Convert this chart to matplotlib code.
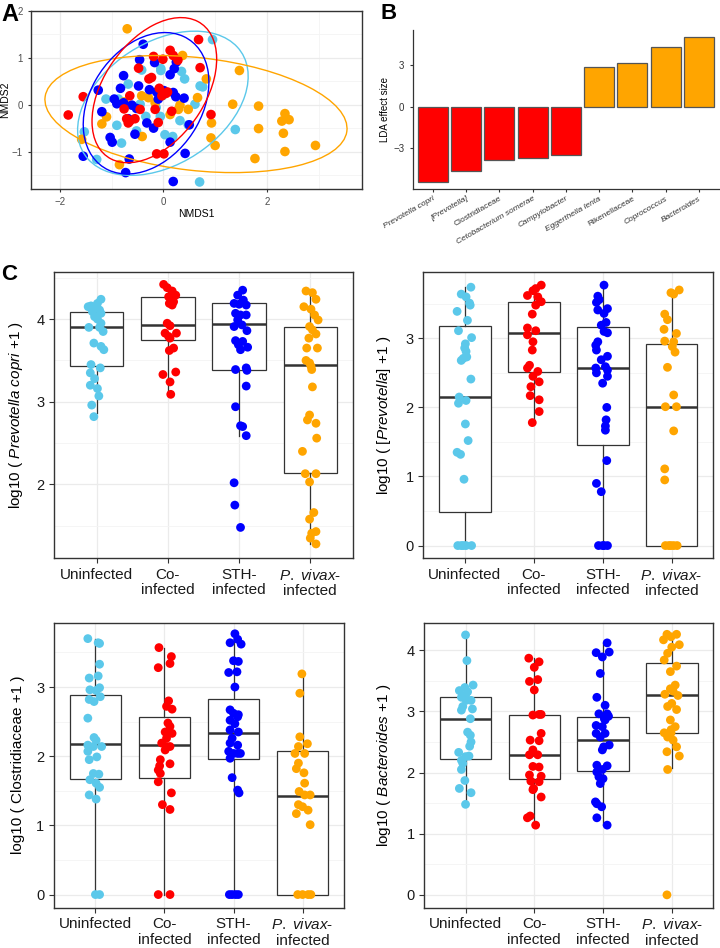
import numpy as np
import matplotlib
matplotlib.use("Agg")
import matplotlib.pyplot as plt
import matplotlib.transforms as mtransforms
from matplotlib.patches import Ellipse
from matplotlib.ticker import FixedLocator

plt.rcParams['font.family'] = ['Liberation Sans', 'DejaVu Sans']
plt.rcParams['mathtext.fontset'] = 'custom'
plt.rcParams['mathtext.rm'] = 'Liberation Sans'
plt.rcParams['mathtext.it'] = 'Liberation Sans:italic'
plt.rcParams['mathtext.bf'] = 'Liberation Sans:bold'

# ---------------- colours ----------------
C_UNINF = "#5BC8EA"
C_CO = "#FF0000"
C_STH = "#0000FF"
C_VIV = "#FFA500"

# ---------------- Panel A : NMDS ----------------
viv_nmds1 = [-0.70, 0.37, 1.47, 0.83, 0.66, -0.42, -0.29, -0.16, 0.32, 0.48, 0.13, -0.76, -1.10, -1.19, -1.58,
             -0.85, -0.41, 0.93, 0.92, 1.00, 1.34, 1.84, 1.84, 2.35, 2.43, 2.29, 2.32, 2.35, 1.77, 2.94, 0.29]
viv_nmds2 = [1.62, 1.05, 0.73, 0.55, 0.15, 0.19, 0.15, 0.04, -0.01, -0.10, -0.21, 0.06, -0.26, -0.41, -0.74,
             -1.28, -0.68, -0.39, -0.71, -0.87, 0.01, -0.03, -0.51, -0.19, -0.32, -0.35, -0.61, -1.00, -1.15, -0.87, -0.10]
co_nmds1 = [0.68, 0.13, 0.19, -0.19, -0.01, 0.28, -0.48, 0.71, -0.28, -0.23, -0.08, 0.08, -0.03, 0.05, -0.65,
            -1.55, -0.76, -0.45, -0.16, 0.16, -0.71, -0.65, -0.68, -0.10, 0.92, -1.84, -0.13, 0.01, -0.55]
co_nmds2 = [1.39, 1.16, 1.05, 1.03, 0.97, 0.95, 0.78, 0.79, 0.55, 0.58, 0.35, 0.27, 0.19, 0.24, 0.19,
            0.17, -0.09, -0.10, -0.10, -0.14, -0.30, -0.35, -0.39, -0.38, -0.21, -0.22, -1.05, -1.05, -0.30]
sth_nmds1 = [-0.39, -0.46, -0.17, 0.25, 0.21, 0.13, -0.77, -0.83, -0.48, -0.27, -0.13, 0.01, 0.19, 0.24, 0.40,
             -1.26, -0.95, -0.90, -1.19, -0.77, -0.61, -0.52, -0.32, -0.19, 0.50, -0.68, -1.03, -0.99, -0.55,
             0.13, 0.42, -1.55, -0.66, -0.73, 0.19, -0.10]
sth_nmds2 = [1.29, 0.96, 0.90, 0.91, 0.77, 0.64, 0.62, 0.35, 0.40, 0.32, 0.27, 0.30, 0.26, 0.17, 0.14,
             0.31, 0.12, 0.02, -0.15, 0.04, -0.01, -0.08, -0.39, -0.50, -0.43, -0.30, -0.70, -0.80, -0.63,
             -0.80, -1.04, -1.10, -1.16, -1.45, -1.64, 0.12]
un_nmds1 = [0.95, -0.05, -0.05, 0.35, 0.41, -0.42, -0.68, -1.11, -0.87, -0.45, -0.14, -0.06, -0.34, 0.32,
            0.48, 0.61, 0.71, 0.76, -0.90, -1.53, -0.81, -1.29, -0.52, 0.03, 0.18, 1.39, 0.70, -0.02]
un_nmds2 = [1.39, 0.77, 0.73, 0.71, 0.55, 0.74, 0.44, 0.12, 0.12, 0.01, -0.06, -0.25, -0.25, -0.34,
            -0.43, 0.01, 0.40, 0.38, -0.44, -0.58, -0.82, -1.17, -0.56, -0.64, -0.68, -0.53, -1.65, 0.19]

# 95% ellipses: centre and shape matrix (sxx, syy, sxy)
ell_groups = ["Uninfected", "P. vivax", "STH", "Co"]
ell_cx = [-0.01, 0.63, -0.335, -0.175]
ell_cy = [0.03, -0.20, 0.03, 0.31]
ell_sxx = [2.72, 8.53, 1.476, 1.452]
ell_syy = [2.37, 1.5625, 2.28, 2.40]
ell_sxy = [0.95, -0.90, 0.55, 0.80]

# ---------------- Panel B : LDA ----------------
lda_taxa = ["Prevotella copri", "[Prevotella]", "Clostridiaceae", "Cetobacterium somerae", "Campylobacter",
            "Eggerthella lenta", "Rikenellaceae", "Coprococcus", "Bacteroides"]
lda_score = [-5.43, -4.66, -3.88, -3.74, -3.52, 2.90, 3.14, 4.35, 5.07]
lda_italic = [True, True, False, True, True, True, False, True, True]

# ---------------- Panel C : boxplots (value, jitter) ----------------
groups = ["Uninfected", "Co-\ninfected", "STH-\ninfected", r"$\mathit{P.\ vivax}$-" + "\ninfected"]

pc_uninf = [(4.24,0.06),(4.19,0.01),(4.16,-0.08),(4.15,-0.12),(4.13,-0.01),(4.11,0.04),(4.09,-0.06),(4.07,0.06),(4.03,-0.03),(4.00,0.01),(3.95,0.06),(3.90,-0.11),(3.90,0.04),(3.85,0.09),(3.71,-0.04),(3.67,0.06),(3.63,0.10),(3.45,-0.08),(3.41,0.05),(3.35,-0.09),(3.28,-0.03),(3.20,-0.09),(3.16,0.01),(3.07,0.03),(2.96,-0.07),(2.82,-0.04)]
pc_co = [(4.42,-0.06),(4.38,-0.01),(4.34,0.06),(4.29,0.11),(4.27,0.01),(4.21,0.08),(4.19,0.02),(4.17,0.06),(3.95,-0.01),(3.92,0.03),(3.83,-0.04),(3.83,0.12),(3.79,0.01),(3.77,0.03),(3.65,0.08),(3.62,0.02),(3.33,-0.07),(3.36,0.11),(3.24,0.03),(3.09,0.04)]
pc_sth = [(4.35,0.05),(4.29,-0.02),(4.23,0.06),(4.19,-0.07),(4.18,0.00),(4.17,0.10),(4.07,-0.05),(4.05,0.02),(4.05,0.10),(3.99,-0.02),(3.91,-0.07),(3.93,0.04),(3.86,0.11),(3.74,-0.05),(3.73,0.05),(3.69,-0.01),(3.63,0.02),(3.66,0.12),(3.39,-0.05),(3.41,0.10),(3.38,0.11),(3.19,0.10),(2.94,-0.05),(2.71,0.02),(2.70,0.05),(2.59,0.10),(2.02,-0.07),(1.75,-0.06),(1.48,0.02)]
pc_viv = [(4.34,-0.06),(4.32,0.03),(4.24,0.08),(4.15,-0.09),(4.12,0.01),(4.05,0.06),(3.99,0.11),(3.91,-0.01),(3.87,0.03),(3.82,0.08),(3.77,-0.02),(3.65,-0.05),(3.65,0.10),(3.50,-0.06),(3.47,-0.01),(3.43,0.01),(3.39,0.02),(3.18,0.03),(2.84,-0.01),(2.78,-0.04),(2.74,0.08),(2.56,0.09),(2.40,-0.11),(2.13,-0.07),(2.13,0.08),(2.03,-0.01),(1.66,0.05),(1.58,-0.01),(1.41,0.02),(1.43,0.08),(1.35,0.00),(1.28,0.08)]
pc_q1 = [3.43, 3.75, 3.39, 2.14]
pc_med = [3.90, 3.93, 3.94, 3.44]
pc_q3 = [4.09, 4.27, 4.19, 3.90]
pc_lo = [2.86, 3.08, 2.59, 1.28]
pc_hi = [4.24, 4.42, 4.35, 4.34]

pv_uninf = [(3.74,0.09),(3.64,-0.05),(3.60,0.02),(3.51,0.07),(3.48,0.08),(3.39,-0.11),(3.26,0.04),(3.11,-0.09),(3.01,0.10),(2.92,0.01),(2.86,0.00),(2.81,0.02),(2.71,-0.02),(2.73,0.03),(2.68,-0.05),(2.41,0.09),(2.15,-0.08),(2.06,-0.09),(2.10,0.02),(1.76,0.01),(1.52,0.05),(1.35,-0.11),(1.32,-0.06),(0.96,-0.01),(0,-0.10),(0,-0.05),(0,0.02),(0,0.10),(0,-0.02)]
pv_co = [(3.77,0.11),(3.72,0.03),(3.69,-0.01),(3.62,-0.09),(3.60,0.06),(3.53,0.11),(3.48,0.03),(3.35,-0.02),(3.15,-0.09),(3.11,0.03),(3.05,-0.09),(2.95,-0.01),(2.83,-0.02),(2.61,-0.06),(2.57,-0.09),(2.52,0.06),(2.45,-0.01),(2.37,0.08),(2.30,-0.04),(2.17,-0.05),(2.11,0.08),(1.94,0.08),(1.78,-0.02)]
pv_sth = [(3.77,0.02),(3.61,-0.07),(3.56,-0.05),(3.52,-0.09),(3.43,0.07),(3.41,-0.07),(3.36,0.02),(3.19,-0.02),(3.23,0.05),(3.08,0.07),(3.10,0.02),(2.95,-0.07),(2.90,-0.10),(2.83,-0.09),(2.69,-0.02),(2.74,0.07),(2.59,0.04),(2.57,-0.10),(2.54,0.07),(2.45,0.07),(2.50,-0.09),(2.35,0.00),(2.00,0.06),(1.82,0.05),(1.73,0.04),(1.67,0.04),(1.23,0.06),(0.90,-0.09),(0.78,-0.02),(0,-0.06),(0,0.00),(0,0.07),(0,0.02)]
pv_viv = [(3.70,0.11),(3.66,-0.01),(3.64,0.03),(3.35,-0.10),(3.27,-0.06),(3.13,-0.11),(3.07,0.07),(2.96,-0.10),(2.95,0.03),(2.88,0.01),(2.80,0.05),(2.58,-0.06),(2.18,0.03),(2.01,-0.09),(2.01,0.07),(1.66,0.03),(1.11,-0.10),(0.95,-0.10),(0,-0.09),(0,-0.04),(0,0.03),(0,0.08),(0,-0.01)]
pv_q1 = [0.48, 2.51, 1.46, 0.0]
pv_med = [2.15, 3.07, 2.57, 2.0]
pv_q3 = [3.18, 3.52, 3.16, 2.92]
pv_lo = [0.0, 1.77, 0.0, 0.0]
pv_hi = [3.74, 3.77, 3.77, 3.70]

cl_uninf = [(3.70,-0.11),(3.64,0.04),(3.63,0.06),(3.33,0.06),(3.13,-0.09),(3.16,0.04),(2.96,-0.08),(2.99,0.06),(2.95,0.01),(2.82,-0.09),(2.79,-0.02),(2.86,0.07),(2.55,-0.11),(2.27,-0.02),(2.23,0.01),(2.16,-0.11),(2.14,0.09),(2.14,-0.03),(2.07,-0.11),(1.99,0.02),(1.95,-0.09),(1.75,-0.03),(1.74,0.05),(1.66,-0.08),(1.61,0.01),(1.55,0.06),(1.44,-0.09),(1.38,0.01),(0,0.00),(0,0.06)]
cl_co = [(3.57,-0.08),(3.44,0.10),(3.34,0.08),(3.28,-0.09),(2.80,0.06),(2.72,0.03),(2.68,0.11),(2.48,0.05),(2.43,0.08),(2.35,0.01),(2.33,0.11),(2.26,0.03),(2.19,-0.04),(2.14,0.03),(2.14,0.08),(2.09,0.01),(1.95,-0.06),(1.86,-0.07),(1.89,0.08),(1.80,-0.09),(1.75,-0.06),(1.63,-0.09),(1.47,0.10),(1.30,-0.03),(1.23,0.08),(0,-0.09),(0,0.08)]
cl_sth = [(3.77,0.02),(3.64,-0.05),(3.69,0.06),(3.62,0.11),(3.38,0.00),(3.37,0.07),(3.21,-0.07),(3.22,0.05),(3.00,0.02),(2.67,-0.05),(2.62,0.00),(2.60,0.07),(2.52,-0.05),(2.57,0.06),(2.47,0.02),(2.38,-0.05),(2.35,0.07),(2.26,-0.02),(2.19,-0.05),(2.16,0.06),(2.07,-0.07),(2.04,0.00),(2.04,0.06),(2.04,0.10),(1.97,-0.05),(1.69,-0.02),(1.51,0.06),(1.47,0.08),(0,-0.06),(0,-0.02),(0,0.03),(0,0.07)]
cl_viv = [(3.19,-0.01),(2.91,-0.04),(2.28,-0.04),(2.18,0.07),(2.14,-0.06),(2.04,-0.11),(2.04,0.03),(1.90,-0.06),(1.82,-0.09),(1.76,0.02),(1.61,0.03),(1.49,-0.05),(1.44,0.03),(1.44,0.11),(1.30,-0.06),(1.27,0.00),(1.22,0.08),(1.17,-0.09),(1.01,0.11),(0,-0.07),(0,0.00),(0,0.08),(0,0.12)]
cl_q1 = [1.67, 1.69, 1.96, 0.0]
cl_med = [2.17, 2.16, 2.34, 1.43]
cl_q3 = [2.88, 2.57, 2.82, 2.07]
cl_lo = [0.0, 0.0, 0.0, 0.0]
cl_hi = [3.70, 3.57, 3.77, 3.19]

ba_uninf = [(4.25,0.00),(3.83,0.02),(3.39,-0.01),(3.43,0.11),(3.34,-0.09),(3.32,0.03),(3.26,0.00),(3.23,-0.06),(3.18,0.08),(3.18,0.01),(3.08,-0.04),(3.04,0.10),(3.02,-0.06),(2.88,0.07),(2.66,0.03),(2.61,0.07),(2.50,0.08),(2.43,0.06),(2.33,-0.10),(2.27,0.05),(2.26,0.00),(2.20,-0.06),(2.15,-0.04),(2.05,-0.06),(1.87,-0.01),(1.74,-0.09),(1.67,0.08),(1.48,0.00)]
ba_co = [(3.87,-0.08),(3.81,0.07),(3.72,0.00),(3.49,-0.07),(3.52,0.05),(3.35,0.00),(2.95,0.07),(2.94,-0.02),(2.95,0.10),(2.64,0.10),(2.53,-0.06),(2.52,0.07),(2.37,-0.02),(2.29,-0.07),(2.29,0.05),(2.10,-0.02),(2.09,0.07),(1.96,-0.07),(1.94,0.10),(1.86,-0.05),(1.85,0.07),(1.74,-0.01),(1.72,-0.02),(1.60,0.10),(1.26,-0.10),(1.29,-0.06),(1.14,0.02)]
ba_sth = [(4.12,0.06),(3.97,0.09),(3.96,-0.10),(3.89,-0.01),(3.62,-0.04),(3.23,-0.09),(3.10,0.03),(2.96,0.06),(2.96,-0.06),(2.88,0.02),(2.92,0.08),(2.86,0.03),(2.77,-0.10),(2.75,-0.01),(2.64,-0.10),(2.64,0.03),(2.58,-0.04),(2.45,0.09),(2.42,0.01),(2.37,-0.01),(2.12,-0.09),(2.11,0.06),(2.05,-0.01),(2.01,-0.09),(1.93,-0.06),(1.90,0.00),(1.82,-0.04),(1.52,-0.11),(1.49,-0.09),(1.44,-0.02),(1.26,-0.09),(1.14,0.06)]
ba_viv = [(4.26,-0.07),(4.26,0.07),(4.22,-0.01),(4.17,-0.12),(4.09,0.11),(4.05,0.00),(3.95,-0.06),(3.84,-0.11),(3.74,0.07),(3.65,-0.02),(3.43,0.05),(3.37,-0.02),(3.33,0.02),(3.28,-0.10),(3.26,0.09),(3.13,0.00),(3.08,-0.06),(3.03,0.07),(2.86,-0.02),(2.75,0.05),(2.70,-0.01),(2.65,-0.11),(2.65,-0.01),(2.58,-0.06),(2.53,0.02),(2.42,0.07),(2.34,-0.07),(2.27,0.11),(2.05,-0.06),(0,-0.07)]
ba_q1 = [2.22, 1.89, 2.02, 2.64]
ba_med = [2.88, 2.28, 2.53, 3.26]
ba_q3 = [3.23, 2.94, 2.90, 3.79]
ba_lo = [1.48, 1.14, 1.14, 2.07]
ba_hi = [4.25, 3.87, 4.12, 4.27]

# =====================================================================
W, H = 720, 948
fig = plt.figure(figsize=(W / 100, H / 100), dpi=100)


def fax(left, top, right, bottom):
    return fig.add_axes([left / W, 1 - bottom / H, (right - left) / W, (bottom - top) / H])


GRID_MAJ = "#EBEBEB"
GRID_MIN = "#F4F4F4"
DARK = "#333333"


def frame(ax):
    for s in ax.spines.values():
        s.set_color(DARK)
        s.set_linewidth(1.0)
    ax.set_axisbelow(True)
    ax.grid(which='major', color=GRID_MAJ, lw=0.9)
    ax.grid(which='minor', color=GRID_MIN, lw=0.6)
    ax.tick_params(which='major', length=3.5, width=0.8, color=DARK)
    ax.tick_params(which='minor', length=0)


# ---------------- Panel A ----------------
axA = fax(31, 11, 362, 189)
frame(axA)
ell_cols = [C_UNINF, C_VIV, C_STH, C_CO]
for xs, ys, col in [(un_nmds1, un_nmds2, C_UNINF), (viv_nmds1, viv_nmds2, C_VIV),
                    (sth_nmds1, sth_nmds2, C_STH), (co_nmds1, co_nmds2, C_CO)]:
    axA.scatter(xs, ys, s=48, color=col, edgecolors='none', zorder=3)
for i, col in enumerate(ell_cols):
    S = np.array([[ell_sxx[i], ell_sxy[i]], [ell_sxy[i], ell_syy[i]]])
    vals, vecs = np.linalg.eigh(S)
    ang = np.degrees(np.arctan2(vecs[1, 1], vecs[0, 1]))
    e = Ellipse((ell_cx[i], ell_cy[i]), 2 * np.sqrt(vals[1]), 2 * np.sqrt(vals[0]), angle=ang,
                fill=False, edgecolor=col, lw=1.0, zorder=4)
    axA.add_patch(e)
axA.set_xlim(-2.56, 3.84)
axA.set_ylim(-1.8, 2.0)
axA.xaxis.set_major_locator(FixedLocator([-2, 0, 2]))
axA.xaxis.set_minor_locator(FixedLocator([-1, 1, 3]))
axA.yaxis.set_major_locator(FixedLocator([-1, 0, 1, 2]))
axA.yaxis.set_minor_locator(FixedLocator([-1.5, -0.5, 0.5, 1.5]))
axA.tick_params(labelsize=7, labelcolor="#4D4D4D", length=2.5)
axA.set_xlabel("NMDS1", fontsize=7.5)
axA.set_ylabel("NMDS2", fontsize=7.5)
axA.xaxis.set_label_coords(0.5, -0.11)
axA.yaxis.set_label_coords(-0.062, 0.5)

# ---------------- Panel B ----------------
axB = fax(412.7, 30, 719, 189)
pos = np.arange(1, len(lda_taxa) + 1)
bar_cols = [C_CO if v < 0 else C_VIV for v in lda_score]
axB.bar(pos, lda_score, width=0.9, color=bar_cols, edgecolor="#555555", linewidth=0.9, zorder=3)
axB.set_xlim(0.4, 9.6)
axB.set_ylim(-5.96, 5.56)
for s in ['top', 'right']:
    axB.spines[s].set_visible(False)
for s in ['left', 'bottom']:
    axB.spines[s].set_color(DARK)
    axB.spines[s].set_linewidth(0.9)
axB.set_yticks([-3, 0, 3])
axB.set_xticks(pos)
axB.set_xticklabels(lda_taxa, rotation=30, ha='right', rotation_mode='anchor', fontsize=6)
shift = mtransforms.ScaledTranslation(8 / 100, 0, fig.dpi_scale_trans)
for lab, it in zip(axB.get_xticklabels(), lda_italic):
    lab.set_fontstyle('italic' if it else 'normal')
    lab.set_transform(lab.get_transform() + shift)
axB.tick_params(length=2.5, width=0.8, color=DARK, labelsize=7, labelcolor="#333333")
axB.tick_params(axis='x', labelsize=6, pad=2)
axB.set_ylabel("LDA effect size", fontsize=7)
axB.yaxis.set_label_coords(-0.074, 0.5)

# ---------------- Panel C ----------------
cols = [C_UNINF, C_CO, C_STH, C_VIV]


def box_panel(ax, pts, q1, med, q3, lo, hi, ylim, majors, minors, ylabel, lblx):
    frame(ax)
    stats = [dict(med=med[i], q1=q1[i], q3=q3[i], whislo=lo[i], whishi=hi[i]) for i in range(4)]
    ax.bxp(stats, positions=[1, 2, 3, 4], widths=0.75, showfliers=False, showcaps=False,
           patch_artist=True,
           boxprops=dict(facecolor='white', edgecolor=DARK, linewidth=0.9),
           medianprops=dict(color=DARK, linewidth=1.8),
           whiskerprops=dict(color=DARK, linewidth=0.9), zorder=2)
    for i, (grp, col) in enumerate(zip(pts, cols)):
        ys = [p[0] for p in grp]
        xs = [i + 1 + p[1] for p in grp]
        ax.scatter(xs, ys, s=40, color=col, edgecolors='none', zorder=3)
    ax.set_xlim(0.4, 4.6)
    ax.set_ylim(*ylim)
    ax.xaxis.set_major_locator(FixedLocator([1, 2, 3, 4]))
    ax.yaxis.set_major_locator(FixedLocator(majors))
    ax.yaxis.set_minor_locator(FixedLocator(minors))
    ax.set_xticklabels(groups, fontsize=11, linespacing=1.1)
    ax.tick_params(axis='y', labelsize=10.5)
    ax.tick_params(labelcolor="#1A1A1A")
    ax.set_ylabel(ylabel, fontsize=11)
    ax.yaxis.set_label_coords(lblx, 0.5)


ax1 = fax(54, 272, 353, 558)
box_panel(ax1, [pc_uninf, pc_co, pc_sth, pc_viv], pc_q1, pc_med, pc_q3, pc_lo, pc_hi,
          (1.11, 4.57), [2, 3, 4], [1.5, 2.5, 3.5, 4.5],
          r"log10 ( $\mathit{Prevotella\ copri}$ +1 )", -0.097)

ax2 = fax(423.3, 272, 713, 558)
box_panel(ax2, [pv_uninf, pv_co, pv_sth, pv_viv], pv_q1, pv_med, pv_q3, pv_lo, pv_hi,
          (-0.18, 3.96), [0, 1, 2, 3], [0.5, 1.5, 2.5, 3.5],
          r"log10 ( [$\mathit{Prevotella}$] +1 )", -0.105)

ax3 = fax(54, 622.7, 344, 907.7)
box_panel(ax3, [cl_uninf, cl_co, cl_sth, cl_viv], cl_q1, cl_med, cl_q3, cl_lo, cl_hi,
          (-0.19, 3.93), [0, 1, 2, 3], [0.5, 1.5, 2.5, 3.5],
          "log10 ( Clostridiaceae +1 )", -0.10)

ax4 = fax(424.3, 622.7, 713, 907.7)
box_panel(ax4, [ba_uninf, ba_co, ba_sth, ba_viv], ba_q1, ba_med, ba_q3, ba_lo, ba_hi,
          (-0.21, 4.45), [0, 1, 2, 3, 4], [0.5, 1.5, 2.5, 3.5],
          r"log10 ( $\mathit{Bacteroides}$ +1 )", -0.107)

# ---------------- panel letters ----------------
fig.text(1 / W, 1 - 3 / H, "A", fontsize=17, fontweight='bold', va='top', ha='left')
fig.text(381 / W, 1 - 3 / H, "B", fontsize=16, fontweight='bold', va='top', ha='left')
fig.text(1 / W, 1 - 264 / H, "C", fontsize=16, fontweight='bold', va='top', ha='left')

fig.savefig("out.png", dpi=100)
